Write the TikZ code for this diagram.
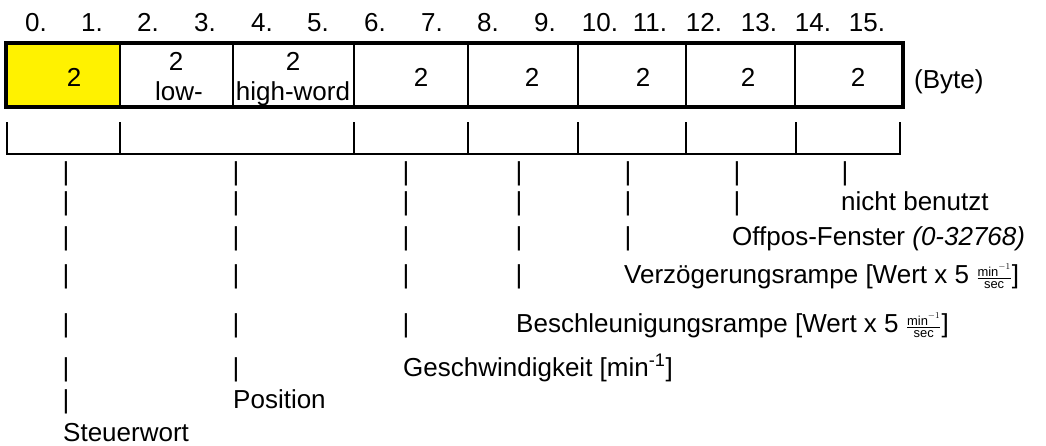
\documentclass[tikz,border=0pt]{standalone}
\usepackage{fontspec}
\setmainfont{Liberation Sans}
\newcommand\ratefrac{{\fontsize{18.5}{18.5}\selectfont$\frac{\mathrm{min}^{-1}}{\mathrm{sec}}$}}
\begin{document}
\begin{tikzpicture}[x=1pt,y=-1pt,
  txt/.style={inner sep=0pt,font=\fontsize{26}{30}\selectfont},
  hdr/.style={txt,anchor=base},
  bar/.style={txt,anchor=base},
  lbl/.style={txt,anchor=base west},
  frame/.style={line width=4pt},
  rule/.style={line width=2pt}]
\useasboundingbox (0,0) rectangle (1046,445);

% byte numbers
\foreach \b/\x in {0/36,1/92,2/148,3/205,4/262,5/318,6/375,7/432,8/488,9/545,10/600,11/650,12/704,13/759,14/813,15/867}
  \node[hdr] (byte\b) at (\x,31) {\b.};

% telegram frame with fields
\fill[yellow] (8,45) rectangle (119.5,105);
\foreach \x in {119.5,233,354,467.5,578,686,795}
  \draw[rule] (\x,45) -- (\x,105);
\draw[frame] (6,43) rectangle (902.5,107);

\node[hdr] (f1) at (74,86) {2};
\node[hdr] (f2a) at (176,70) {2};
\node[hdr] (f2b) at (179,100) {low-};
\node[hdr] (f3a) at (293,70) {2};
\node[hdr] (f3b) at (293,100) {high-word};
\node[hdr] (f4) at (421,86) {2};
\node[hdr] (f5) at (532,86) {2};
\node[hdr] (f6) at (643,86) {2};
\node[hdr] (f7) at (748,86) {2};
\node[hdr] (f8) at (858,86) {2};
\node[lbl] (unit) at (914,88) {(Byte)};

% open bracket row
\draw[rule] (7,122) -- (7,153.5) -- (900,153.5) -- (900,122);
\foreach \x in {120,354,468,578,686,795.5}
  \draw[rule] (\x,122) -- (\x,153.5);

% pointer bars
\foreach \c/\x/\n in {a/66/7,b/236/6,c/406/5,d/519/4,e/628/3,f/737/2,g/845/1}{
  \foreach \r [count=\i] in {180,210,245,283,332,376,408}{
    \ifnum\i>\n\relax\else\node[bar] (p\c\i) at (\x,\r) {|};\fi
  }
}

% field descriptions
\node[lbl] (steuer) at (63,441) {Steuerwort};
\node[lbl] (pos) at (233,408) {Position};
\node[lbl] (gesch) at (403,376) {Geschwindigkeit [min\textsuperscript{-1}]};
\node[lbl] (besch) at (516,332) {Beschleunigungsrampe [Wert x 5 \ratefrac]};
\node[lbl] (verz) at (624,283) {Verzögerungsrampe [Wert x 5 \ratefrac]};
\node[lbl] (offpos) at (732,245) {Offpos-Fenster \textit{(0-32768)}};
\node[lbl] (nicht) at (841,210) {nicht benutzt};
\end{tikzpicture}
\end{document}
